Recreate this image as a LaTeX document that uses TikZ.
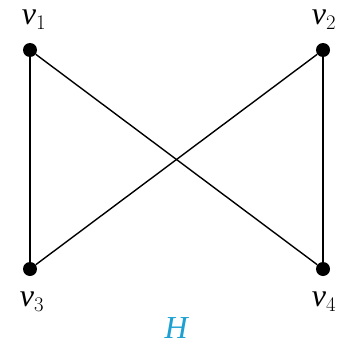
\documentclass[tikz,border=0pt]{standalone}
\usepackage{fontspec}
\setmainfont{Liberation Serif}
\definecolor{hblue}{RGB}{30,160,210}
\begin{document}
\begin{tikzpicture}[x=1pt,y=-1pt,
  vert/.style={circle,fill=black,inner sep=0pt,minimum size=14pt},
  lab/.style={font=\fontsize{32}{36}\selectfont},
  edge/.style={line width=1.4pt}]
\useasboundingbox (0,0) rectangle (339,345);
\node[vert] (v1) at (30,50) {};
\node[vert] (v2) at (323,50) {};
\node[vert] (v3) at (30,269) {};
\node[vert] (v4) at (323,269) {};
\node[lab] (l1) at (34,20) {\textit{v}$_1$};
\node[lab] (l2) at (324,20) {\textit{v}$_2$};
\node[lab] (l3) at (32,302) {\textit{v}$_3$};
\node[lab] (l4) at (324,302) {\textit{v}$_4$};
\node[lab,text=hblue] (h) at (177,328) {\textit{H}};
\draw[edge] (v1) -- (v3);
\draw[edge] (v2) -- (v4);
\draw[edge] (v1) -- (v4);
\draw[edge] (v2) -- (v3);
\end{tikzpicture}
\end{document}
